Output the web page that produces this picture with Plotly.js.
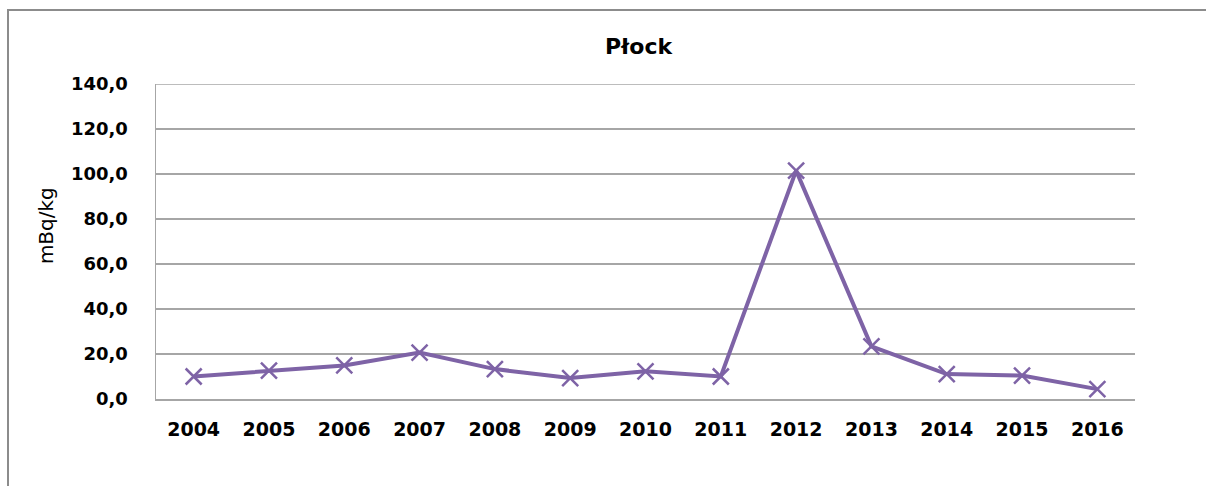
<!DOCTYPE html>
<html>
<head>
<meta charset="utf-8">
<script src="https://cdn.plot.ly/plotly-3.0.1.min.js"></script>
<style>
  html, body { margin: 0; padding: 0; background: #fff; }
  #wrap { position: relative; width: 1206px; height: 486px; }
  #frame { position: absolute; left: 7px; top: 9px; right: 0; bottom: 0;
           border-left: 2px solid #8c8c8c; border-top: 2px solid #8c8c8c; pointer-events: none; }
  #chart { position: absolute; left: 0; top: 0; width: 1206px; height: 486px; }
</style>
</head>
<body>
<div id="wrap">
  <div id="chart"></div>
  <div id="frame"></div>
</div>
<script>
// Yearly activity measured in Płock, mBq/kg
const years = ['2004','2005','2006','2007','2008','2009','2010','2011','2012','2013','2014','2015','2016'];
const values = [10.0, 12.6, 14.9, 20.6, 13.3, 9.3, 12.3, 10.0, 101.5, 23.4, 11.1, 10.4, 4.4];
const yTicks = [0, 20, 40, 60, 80, 100, 120, 140];

const purple = '#7e63a6';
const grid = '#a6a6a6';

const trace = {
  x: years,
  y: values,
  type: 'scatter',
  mode: 'lines+markers',
  line: { color: purple, width: 4 },
  marker: { symbol: 'x-thin', size: 16, line: { color: purple, width: 2.5 }, color: purple },
  hoverinfo: 'x+y'
};

const layout = {
  width: 1206,
  height: 486,
  margin: { l: 156, r: 71, t: 84, b: 87 },
  paper_bgcolor: '#fff',
  plot_bgcolor: '#fff',
  separators: ', ',
  showlegend: false,
  xaxis: {
    type: 'category',
    range: [-0.5, 12.5],
    showgrid: false,
    showline: true,
    linecolor: grid,
    linewidth: 1.5,
    ticks: '',
    ticklabelstandoff: 13,
    tickfont: { family: 'DejaVu Sans', size: 19, color: '#000', weight: 'bold' },
    zeroline: false
  },
  yaxis: {
    range: [0, 140],
    tickvals: yTicks,
    tickformat: '.1f',
    showgrid: true,
    gridcolor: grid,
    gridwidth: 1.5,
    showline: true,
    linecolor: grid,
    linewidth: 1.5,
    ticks: '',
    ticklabelstandoff: 23,
    tickfont: { family: 'DejaVu Sans', size: 18, color: '#000', weight: 'bold' },
    zeroline: false
  },
  annotations: [
    {
      text: '<b>Płock</b>',
      font: { family: 'DejaVu Sans', size: 22, color: '#000' },
      xref: 'paper', yref: 'paper',
      x: 0.4934, y: 1.1,
      yshift: 6,
      xanchor: 'center', yanchor: 'middle',
      showarrow: false
    },
    {
      text: 'mBq/kg',
      font: { family: 'DejaVu Sans', size: 20, color: '#000' },
      xref: 'paper', yref: 'paper',
      x: -0.113, y: 0.55,
      xanchor: 'center', yanchor: 'middle',
      textangle: -90,
      showarrow: false
    }
  ],
  shapes: [{
    type: 'line', xref: 'paper', yref: 'y',
    x0: 0, x1: 1, y0: 140, y1: 140,
    line: { color: grid, width: 1.5 }
  }]
};

Plotly.newPlot('chart', [trace], layout, { displayModeBar: false, staticPlot: true });
</script>
</body>
</html>
